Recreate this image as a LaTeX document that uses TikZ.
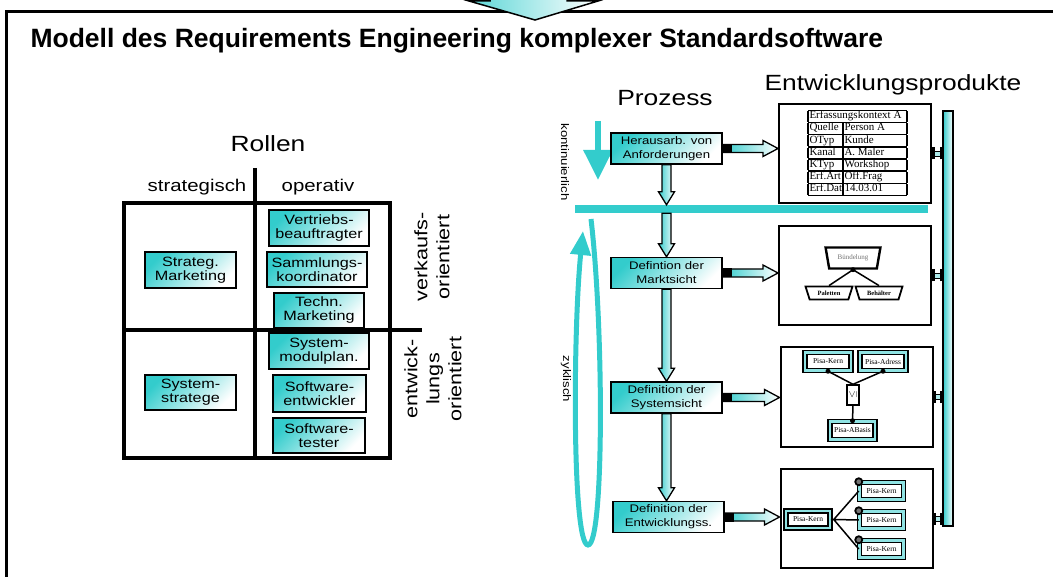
\documentclass[tikz,border=0pt]{standalone}
\usepackage{fontspec}
\setmainfont{Liberation Sans}[FakeStretch=1.2]
\newfontfamily\titelschrift{Liberation Sans}
\newfontfamily\serifschrift{Liberation Serif}
\usetikzlibrary{calc,shapes.geometric,arrows.meta}
\definecolor{tuerkis}{RGB}{51,204,204}

% Blockpfeil nach unten (x vom Start)
\newcommand\pfeilrunter[2]{%
  \path[blockpfeil] let \p1=(#1), \p2=(#2) in
    (\x1-4.5pt,\y1) -- (\x1-4.5pt,\y2+13pt) -- (\x1-8pt,\y2+13pt) -- (\x1,\y2)
    -- (\x1+8pt,\y2+13pt) -- (\x1+4.5pt,\y2+13pt) -- (\x1+4.5pt,\y1) -- cycle;}
% Blockpfeil nach rechts (y vom Start)
\newcommand\pfeilrechts[2]{%
  \path[blockpfeil] let \p1=(#1), \p2=(#2) in
    (\x1,\y1+4pt) -- (\x2-15pt,\y1+4pt) -- (\x2-15pt,\y1+8pt) -- (\x2,\y1)
    -- (\x2-15pt,\y1-8pt) -- (\x2-15pt,\y1-4pt) -- (\x1,\y1-4pt) -- cycle;
  \fill let \p1=(#1) in (\x1,\y1-4.5pt) rectangle (\x1+9pt,\y1+4.5pt);}
% Verbindung Produkt -> Sammelbalken
\newcommand\stecker[2]{%
  \draw[line width=.8pt, fill=tuerkis!40] let \p1=(#1), \p2=(#2) in
    (\x1,\y1-2.5pt) rectangle (\x2,\y1+2.5pt);
  \draw[line width=2.5pt] let \p1=(#1), \p2=(#2) in
    (\x1+1.5pt,\y1-6pt) -- (\x1+1.5pt,\y1+6pt) (\x2-1.5pt,\y1-6pt) -- (\x2-1.5pt,\y1+6pt);}

\begin{document}
\begin{tikzpicture}[x=1pt, y=-1pt,
  rolle/.style={draw, line width=1.6pt, top color=tuerkis, bottom color=white, shading angle=45,
    align=center, inner sep=0pt, font=\fontsize{13.5}{14}\selectfont},
  prozess/.style={draw, line width=1.4pt, top color=tuerkis, bottom color=white, shading angle=45,
    align=center, inner sep=0pt, minimum width=111, minimum height=31, font=\fontsize{11}{14}\selectfont},
  blockpfeil/.style={draw, line width=1.3pt, left color=tuerkis, right color=white},
  produkt/.style={draw, line width=2pt, minimum width=152, minimum height=99},
  minibox/.style={draw, line width=1.5pt, double=tuerkis!55, double distance=2.2pt, fill=white,
    inner sep=0pt, minimum width=44, minimum height=17, font=\serifschrift\fontsize{7.5}{8}\selectfont},
  trapez/.style={trapezium, shape border rotate=180, trapezium stretches=true, draw,
    line width=1.8pt, fill=white, inner sep=0pt},
  kopf/.style={anchor=base, font=\fontsize{22}{24}\selectfont},
  seite/.style={rotate=90, align=center, font=\fontsize{18}{22}\selectfont},
]
\useasboundingbox (0,0) rectangle (1053,577);
\clip (0,0) rectangle (1053,577);

% Rahmen und Eingangspfeil
\draw[line width=3pt] (6,12) rectangle (1080,600);
\path[draw, line width=1.5pt, left color=tuerkis!80, right color=white]
  (490,-20) -- (490,1) -- (469,1) -- (535,20) -- (598,1) -- (567,1) -- (567,-20) -- cycle;
\node[font=\titelschrift\bfseries\fontsize{26.5}{30}\selectfont, anchor=base west] (titel) at (27,48)
  {Modell des Requirements Engineering komplexer Standardsoftware};

% Rollen
\node[kopf] (rollen) at (268,152) {Rollen};
\node[anchor=base, font=\fontsize{17}{20}\selectfont] (strategisch) at (197,192) {strategisch};
\node[anchor=base, font=\fontsize{17}{20}\selectfont] (operativ) at (318,192) {operativ};
\draw[line width=3.5pt] (124,203) rectangle (390,458);
\draw[line width=3.5pt] (255,168) -- (255,458);
\draw[line width=3.5pt] (124,330) -- (422,330);
\node[rolle, minimum width=91, minimum height=36] (strat) at (190.5,270) {Strateg.\\Marketing};
\node[rolle, minimum width=91, minimum height=35] (sysstrat) at (190.5,392.5) {System-\\stratege};
\node[rolle, minimum width=100, minimum height=36] (vertrieb) at (319,228) {Vertriebs-\\beauftragter};
\node[rolle, minimum width=100, minimum height=35] (sammlung) at (317,269.5) {Sammlungs-\\koordinator};
\node[rolle, minimum width=90, minimum height=35] (techn) at (319,310.5) {Techn.\\Marketing};
\node[rolle, minimum width=100, minimum height=36] (modul) at (319,351) {System-\\modulplan.};
\node[rolle, minimum width=93, minimum height=37] (swentw) at (319.5,393.5) {Software-\\entwickler};
\node[rolle, minimum width=92, minimum height=35] (swtest) at (319,435.5) {Software-\\tester};
\node[seite] (verkauf) at (432,257) {verkaufs-\\orientiert};
\node[seite] (entwick) at (433,379) {entwick-\\lungs\\orientiert};

% Prozess
\node[kopf] (prozesskopf) at (665,106) {Prozess};
\node[kopf] (produktkopf) at (893,91) {Entwicklungsprodukte};
\node[rotate=-90, font=\fontsize{11}{12}\selectfont] (kontin) at (565,162) {kontinuierlich};
\node[rotate=-90, font=\fontsize{11}{12}\selectfont] (zykl) at (566,379) {zyklisch};
\draw[tuerkis, line width=6pt, -{Triangle[width=28pt,length=30pt]}] (598,121) -- (598,180);
\draw[tuerkis, line width=5pt, -{Triangle[width=20pt,length=24pt]}]
  (591,219) .. controls (604,330) and (604,545) .. (588,545)
  .. controls (572,545) and (573,330) .. (583,231);
\node[fill=tuerkis, minimum width=353, minimum height=8, inner sep=0pt] (balken) at (751.5,209) {};

\node[prozess] (hera) at (666.5,148.5) {Herausarb. von\\Anforderungen};
\node[prozess] (markt) at (666.5,273) {Defintion der\\Marktsicht};
\node[prozess] (system) at (666.5,397.5) {Definition der\\Systemsicht};
\node[prozess] (entw) at (668.5,517) {Definition der\\Entwicklungss.};

\pfeilrunter{hera.south}{balken.north}
\pfeilrunter{hera.south |- balken.south}{markt.north}
\pfeilrunter{markt.south}{system.north}
\pfeilrunter{system.south}{entw.north}

% Entwicklungsprodukte
\node[produkt] (p1) at (855,153.5) {};
\node[produkt] (p2) at (855,275.5) {};
\node[produkt] (p3) at (856.5,397) {};
\node[produkt] (p4) at (856.5,518.5) {};
\node[draw, line width=1.5pt, left color=tuerkis, right color=white, minimum width=10,
  minimum height=415, inner sep=0pt] (sammel) at (948,318.5) {};

\pfeilrechts{hera.east}{p1.west}
\pfeilrechts{markt.east}{p2.west}
\pfeilrechts{system.east}{p3.west}
\pfeilrechts{entw.east}{p4.west}

\stecker{p1.east}{sammel.west}
\stecker{p2.east}{sammel.west}
\stecker{p3.east}{sammel.west}
\stecker{p4.east}{sammel.west}

% Erfassungskontext
\node[inner sep=0pt, font=\serifschrift\fontsize{11}{10.4}\selectfont] (tabelle) at (857.5,153) {%
  \setlength\arrayrulewidth{1.4pt}\setlength\tabcolsep{1.5pt}%
  \begin{tabular}{|p{32pt}|p{61pt}|}\hline
  \multicolumn{2}{|l|}{Erfassungskontext A}\\\hline
  Quelle & Person A\\\hline
  OTyp & Kunde\\\hline
  Kanal & A. Maler\\\hline
  KTyp & Workshop\\\hline
  Erf.Art & Off.Frag\\\hline
  Erf.Dat & 14.03.01\\\hline
  \end{tabular}};

% Marktsicht
\node[trapez, line width=2.4pt, minimum width=55, minimum height=21, trapezium left angle=70,
  trapezium right angle=70, text=black!55, font=\serifschrift\fontsize{7}{8}\selectfont]
  (buend) at (853,258) {Bündelung};
\node[trapez, minimum width=47, minimum height=13, trapezium left angle=62, trapezium right angle=62,
  font=\serifschrift\bfseries\fontsize{6.5}{7}\selectfont] (palett) at (829,293) {Paletten};
\node[trapez, minimum width=47, minimum height=13, trapezium left angle=62, trapezium right angle=62,
  font=\serifschrift\bfseries\fontsize{6.5}{7}\selectfont] (behael) at (879,293) {Behälter};
\draw[line width=1.5pt] (palett.north) -- (buend.south) -- (behael.north);
\fill (buend.south) circle (2.5);

% Systemsicht
\node[minibox, minimum width=46, minimum height=18] (kern3) at (828,361.5) {Pisa-Kern};
\node[minibox, minimum width=46, minimum height=18] (adress) at (883,361.5) {Pisa-Adress};
\node[draw, line width=1.4pt, fill=white, minimum width=12, minimum height=20, inner sep=0pt]
  (rel) at (853,395) {\rotatebox{90}{$\leq$}};
\node[minibox, minimum width=45, minimum height=18] (abasis) at (852.5,430.5) {Pisa-ABasis};
\draw[line width=1.5pt] (kern3.south) -- (rel.north) -- (adress.south);
\draw[line width=1.5pt] (rel.south) -- (abasis.north);
\fill (kern3.south) circle (2.5) (adress.south) circle (2.5) (abasis.north) circle (2.5);

% Entwicklungssicht
\node[minibox] (kern4) at (808,519.5) {Pisa-Kern};
\node[minibox] (kern4a) at (881.5,491) {Pisa-Kern};
\node[minibox] (kern4b) at (881.5,520) {Pisa-Kern};
\node[minibox] (kern4c) at (881.5,549) {Pisa-Kern};
\coordinate (gabel) at ($(kern4.east)+(3,0)$);
\draw[line width=1.5pt] (kern4.east) -- (gabel) -- (kern4a.west) (gabel) -- (kern4b.west) (gabel) -- (kern4c.west);
\draw[line width=1.8pt, fill=black!55] (kern4a.north west) circle (3.5) (kern4b.north west) circle (3.5)
  (kern4c.north west) circle (3.5);

\end{tikzpicture}
\end{document}
